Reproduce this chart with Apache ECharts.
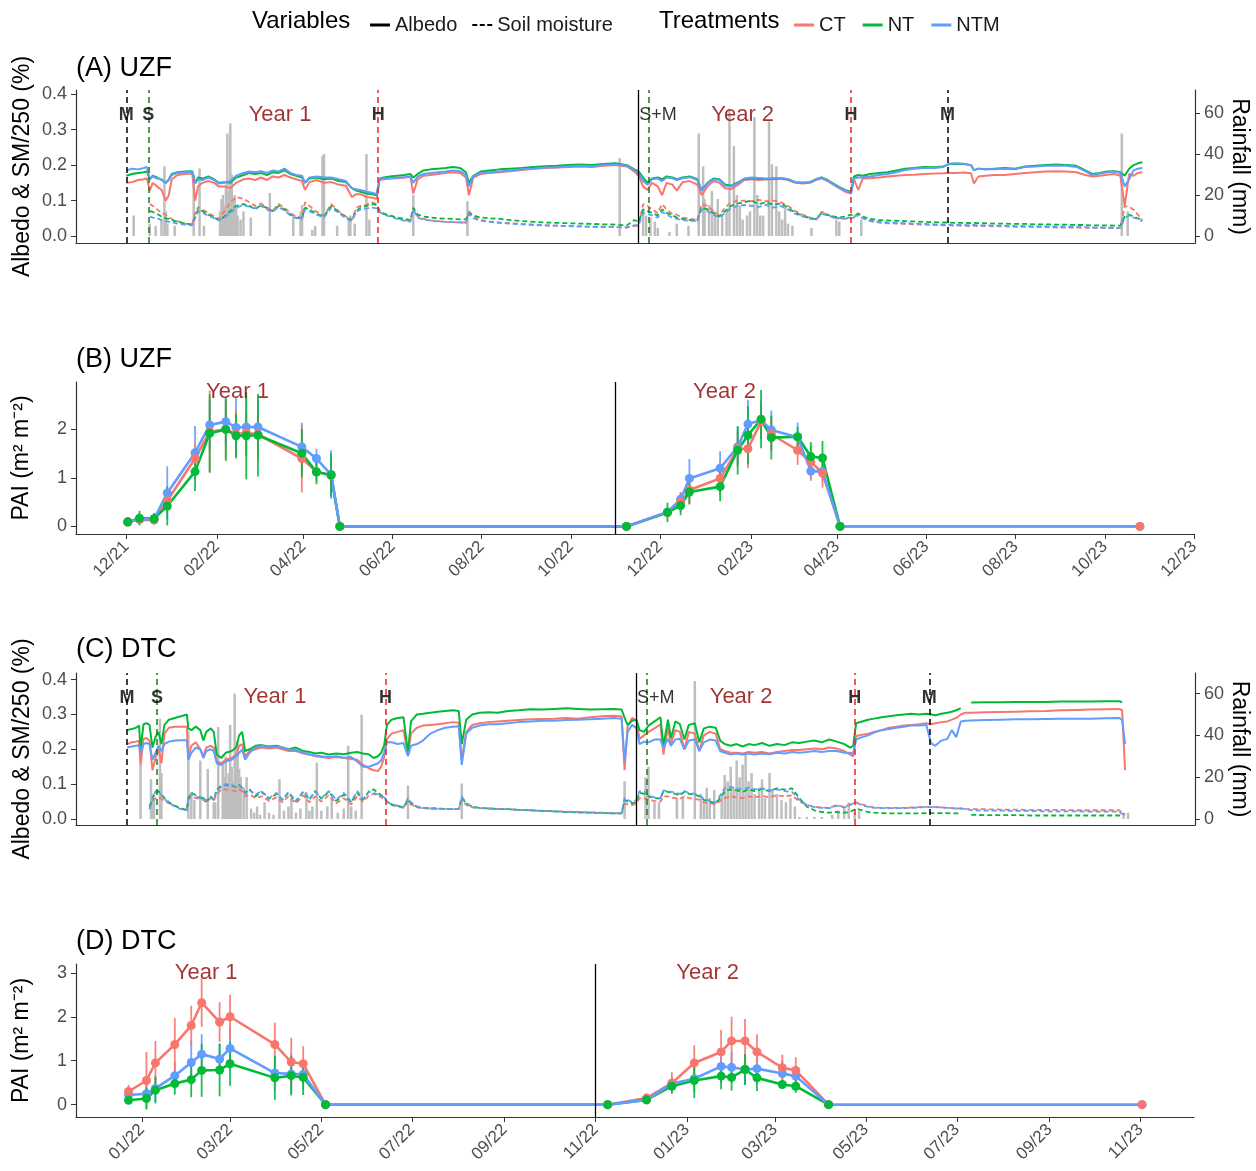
<!DOCTYPE html>
<html><head><meta charset="utf-8">
<script src="https://cdn.jsdelivr.net/npm/echarts@6/dist/echarts.min.js"></script>
<style>html,body{margin:0;padding:0;background:#fff}#c{width:1256px;height:1171px}</style>
</head><body><div id="c"></div>
<script>
// ---------------- DATA ----------------
// Panel A (UZF): days since 2021-12-01
const daysA = [0,4,8,12,14,16,18,21,24,27,
 29,31,35,40,45,47,49,52,56,60,
 63,67,71,75,80,84,88,92,96,100,
 104,108,112,116,120,122,125,130,135,140,
 145,150,154,157,160,164,168,171,173,176,
 180,185,190,194,196,199,203,208,213,218,
 223,228,232,234,237,242,248,255,262,270,
 278,286,294,302,310,318,326,334,342,347,
 350,353,356,359,363,366,369,373,376,380,
 385,390,393,397,401,405,409,413,418,422,
 427,432,437,442,447,452,457,462,467,471,
 475,479,483,487,491,495,497,500,503,508,
 514,520,526,532,538,545,552,558,562,567,
 572,577,579,582,587,593,600,607,614,621,
 628,635,642,649,655,660,665,670,675,679,
 682,685,688,691,694];
const albA_CT = [.150,.152,.158,.160,.162,.128,.150,.140,.130,.100,
 .115,.160,.172,.175,.176,.100,.140,.150,.155,.150,
 .140,.140,.135,.150,.160,.162,.158,.165,.158,.168,
 .165,.172,.165,.160,.155,.130,.152,.158,.150,.152,
 .145,.142,.110,.118,.118,.110,.108,.105,.158,.160,
 .162,.163,.165,.167,.120,.160,.170,.172,.175,.178,
 .180,.178,.165,.115,.165,.175,.178,.180,.183,.186,
 .190,.192,.193,.195,.196,.195,.198,.200,.196,.182,
 .170,.140,.130,.150,.140,.115,.150,.145,.128,.152,
 .155,.145,.115,.140,.155,.150,.135,.132,.145,.158,
 .160,.158,.160,.160,.162,.158,.150,.148,.150,.158,
 .163,.155,.145,.135,.125,.120,.160,.130,.162,.163,
 .165,.168,.170,.172,.173,.175,.176,.177,.178,.178,
 .179,.177,.148,.168,.170,.172,.172,.175,.178,.180,
 .182,.183,.182,.180,.172,.168,.170,.173,.175,.170,
 .085,.175,.170,.178,.180];
const albA_NT = [.170,.175,.178,.180,.182,.160,.170,.165,.158,.150,
 .160,.175,.180,.182,.183,.150,.165,.162,.168,.160,
 .150,.152,.150,.165,.172,.178,.175,.178,.172,.180,
 .178,.185,.175,.170,.165,.150,.162,.165,.160,.162,
 .155,.152,.135,.128,.125,.120,.118,.115,.162,.165,
 .168,.170,.172,.175,.165,.175,.185,.188,.190,.192,
 .195,.192,.180,.150,.170,.182,.185,.188,.190,.192,
 .195,.197,.198,.200,.202,.200,.203,.205,.200,.188,
 .182,.165,.150,.162,.165,.160,.168,.165,.160,.165,
 .168,.160,.130,.150,.162,.160,.145,.142,.152,.160,
 .163,.162,.160,.162,.163,.160,.152,.150,.152,.160,
 .165,.158,.148,.138,.130,.125,.168,.172,.170,.175,
 .178,.180,.185,.190,.192,.195,.194,.196,.203,.204,
 .203,.200,.186,.190,.188,.190,.192,.190,.196,.198,
 .200,.202,.200,.198,.185,.175,.178,.182,.183,.180,
 .170,.190,.200,.205,.208];
const albA_NTM = [.185,.190,.188,.192,.195,.160,.168,.162,.160,.150,
 .158,.172,.178,.180,.181,.148,.160,.158,.165,.158,
 .148,.150,.155,.170,.178,.182,.180,.183,.178,.185,
 .182,.190,.178,.172,.170,.150,.165,.168,.165,.165,
 .160,.155,.135,.132,.130,.125,.122,.118,.160,.162,
 .163,.165,.166,.168,.150,.168,.175,.178,.180,.182,
 .185,.183,.172,.140,.168,.178,.180,.182,.185,.188,
 .190,.193,.194,.196,.198,.197,.200,.202,.198,.186,
 .175,.155,.145,.160,.162,.155,.165,.163,.158,.163,
 .166,.158,.128,.148,.160,.158,.142,.140,.150,.162,
 .165,.164,.162,.163,.164,.160,.152,.150,.152,.160,
 .165,.156,.146,.136,.128,.122,.162,.165,.165,.168,
 .172,.175,.180,.186,.190,.192,.192,.195,.204,.205,
 .204,.200,.185,.190,.188,.188,.190,.188,.195,.196,
 .198,.199,.198,.195,.183,.172,.176,.180,.182,.178,
 .140,.160,.185,.190,.192];
const smA_CT = [null,null,null,null,null,.090,.085,.075,.065,.060,
 .052,.048,.042,.035,.033,.065,.082,.075,.065,.055,
 .048,.070,.095,.110,.105,.095,.085,.092,.080,.072,
 .090,.080,.065,.055,.052,.095,.085,.068,.058,.090,
 .070,.055,.045,.080,.085,.088,.095,.090,.072,.063,
 .058,.050,.045,.042,.078,.055,.048,.044,.042,.040,
 .039,.038,.038,.070,.055,.045,.041,.038,.036,.034,
 .032,.030,.029,.028,.027,.026,.026,.025,.024,.028,
 .030,.090,.085,.075,.065,.090,.075,.062,.060,.052,
 .048,.046,.090,.085,.070,.058,.080,.095,.100,.100,
 .098,.102,.098,.100,.095,.085,.070,.060,.052,.045,
 .068,.060,.052,.050,.048,.050,.052,.065,.050,.042,
 .038,.036,.035,.034,.033,.032,.031,.030,.030,.029,
 .029,.028,.029,.028,.028,.027,.027,.026,.026,.025,
 .025,.024,.024,.024,.023,.023,.023,.022,.022,.022,
 .085,.082,.075,.060,.045];
const smA_NT = [null,null,null,null,null,.070,.068,.062,.055,.050,
 .048,.045,.040,.035,.033,.055,.075,.070,.060,.052,
 .045,.055,.070,.085,.090,.085,.075,.088,.078,.070,
 .085,.075,.060,.052,.050,.080,.075,.062,.055,.085,
 .068,.052,.045,.070,.080,.085,.090,.088,.070,.062,
 .058,.052,.048,.045,.080,.060,.055,.052,.050,.049,
 .048,.047,.047,.065,.058,.052,.050,.048,.045,.042,
 .040,.038,.037,.036,.035,.034,.033,.032,.030,.045,
 .040,.075,.070,.065,.058,.075,.065,.058,.052,.048,
 .045,.044,.080,.075,.065,.055,.070,.085,.092,.095,
 .100,.090,.095,.088,.092,.080,.065,.058,.050,.048,
 .065,.060,.055,.052,.055,.060,.058,.062,.055,.048,
 .045,.044,.043,.042,.041,.040,.039,.038,.038,.037,
 .037,.036,.037,.036,.036,.035,.035,.034,.034,.033,
 .033,.032,.032,.031,.031,.030,.030,.030,.029,.029,
 .055,.060,.055,.050,.045];
const smA_NTM = [null,null,null,null,null,.055,.052,.050,.045,.042,
 .040,.038,.035,.032,.030,.050,.070,.065,.058,.050,
 .044,.052,.065,.080,.088,.082,.078,.085,.075,.068,
 .082,.072,.058,.050,.048,.075,.070,.060,.052,.080,
 .065,.050,.042,.068,.075,.078,.080,.078,.068,.060,
 .055,.048,.043,.040,.075,.052,.046,.043,.041,.040,
 .039,.038,.037,.062,.050,.043,.040,.037,.035,.033,
 .031,.030,.029,.028,.027,.026,.025,.025,.024,.030,
 .032,.065,.062,.058,.052,.068,.060,.052,.048,.045,
 .043,.042,.075,.070,.060,.052,.065,.078,.085,.088,
 .085,.082,.088,.080,.085,.075,.062,.055,.048,.046,
 .062,.058,.052,.050,.050,.052,.055,.058,.050,.043,
 .040,.038,.037,.036,.035,.034,.033,.032,.032,.031,
 .031,.030,.031,.030,.030,.029,.029,.028,.028,.027,
 .027,.026,.026,.025,.025,.024,.024,.024,.023,.023,
 .050,.058,.052,.048,.042];
const rainDaysA = [5,16,20,24,26,27,28,33,46,50,53,64,65,66,67,68,69,70,71,72,
 73,74,75,76,78,80,85,98,114,119,120,127,129,134,135,144,152,153,156,164,
 166,196,233,337,353,355,358,361,363,371,376,384,391,394,395,398,400,402,404,407,
 410,412,415,417,419,421,424,426,429,431,433,435,439,441,444,446,448,450,452,455,
 468,485,487,502,680,684];
const rainMmA = [10,6,5,8,34,12,6,5,30,33,5,12,18,20,15,25,50,22,55,30,
 18,20,14,10,8,12,9,21,9,12,15,3,5,39,40,5,8,10,6,40,
 8,20,17,38,13,10,9,7,4,2,6,5,50,34,18,15,22,12,18,10,
 12,62,44,20,15,8,10,12,58,20,10,10,56,35,34,12,8,14,6,5,
 4,8,7,8,50,12];
const eventDatesA = ['2021-12-01','2021-12-16','2022-05-22','2022-11-23','2023-04-10','2023-06-15'];
const eventKindsA = ['M','S','H','S','H','M'];
const eventLabelsA = ['M','S','H','S+M','H','M'];
const yearSepA = '2022-11-16';

// Panel B (UZF PAI)
const pDatesB = ['2021-12-02','2021-12-10','2021-12-20','2021-12-29','2022-01-17','2022-01-27','2022-02-07','2022-02-14','2022-02-21','2022-03-01','2022-03-31','2022-04-10','2022-04-20','2022-04-26',
 '2022-11-08','2022-12-06','2022-12-15','2022-12-21','2023-01-11','2023-01-23','2023-01-30','2023-02-08','2023-02-15','2023-03-05','2023-03-14','2023-03-22','2023-04-03','2023-10-25'];
const paiB_CT = [0.09,0.14,0.13,0.53,1.40,1.95,2.00,1.90,1.93,1.90,1.40,1.13,1.05,0, 0,0.28,0.50,0.75,0.99,1.60,1.60,2.16,1.90,1.57,1.33,1.10,0,0];
const paiB_NT = [0.09,0.17,0.16,0.42,1.13,1.92,2.00,1.87,1.87,1.88,1.51,1.12,1.06,0, 0,0.29,0.43,0.71,0.82,1.57,1.88,2.21,1.83,1.85,1.44,1.41,0,null];
const paiB_NTM = [0.10,0.15,0.15,0.69,1.52,2.09,2.16,2.04,2.05,2.05,1.64,1.40,1.07,0, 0,0.30,0.56,0.99,1.20,1.64,2.11,2.19,1.99,1.84,1.14,1.13,0,0];
const errB_CT = [0.03,0.08,0.08,0.25,0.3,0.85,0.6,0.5,0.45,0.5,0.7,0.2,0.3,0, 0,0.1,0.2,0.3,0.35,0.35,0.4,0.35,0.35,0.3,0.35,0.3,0,0];
const errB_NT = [0.03,0.15,0.12,0.4,0.4,0.8,0.65,0.45,0.9,0.85,0.5,0.25,0.45,0, 0,0.2,0.2,0.25,0.3,0.5,0.6,0.6,0.45,0.2,0.3,0.35,0,0];
const errB_NTM = [0.03,0.05,0.05,0.55,0.55,0.5,0.5,0.6,0.6,0.55,0.5,0.2,0.5,0, 0,0.08,0.15,0.4,0.35,0.4,0.5,0.4,0.4,0.3,0.2,0.2,0,0];
const yearSepB = '2022-10-31';
const tickLabelsB = ['2021-12-01','2022-02-01','2022-04-01','2022-06-01','2022-08-01','2022-10-01','2022-12-01','2023-02-01','2023-04-01','2023-06-01','2023-08-01','2023-10-01','2023-12-01'];

// Panel C (DTC): days since 2022-01-01
const daysC = [-10,-7,-4,-2,-1,1,3,5,7,9,
 11,13,15,18,22,26,30,31,33,36,
 39,41,43,46,48,50,53,56,60,63,
 65,67,69,72,76,80,85,90,94,98,
 103,108,112,116,120,125,130,135,140,144,
 148,152,155,158,160,162,164,167,171,175,
 178,180,184,188,193,198,203,208,212,214,
 217,221,226,232,238,245,252,260,268,276,
 284,292,300,308,316,321,323,325,328,331,
 333,336,339,343,347,349,352,354,357,360,
 363,366,370,373,376,380,384,387,390,394,
 398,402,406,410,415,420,425,430,435,440,
 445,450,455,460,465,470,474,476,478,482,
 486,490,495,500,505,510,515,520,525,528,
 531,535,539,542,545,548,551,555,565,575,
 585,595,605,615,625,635,645,654,656,658];
const albC_CT = [.215,.220,.222,.225,.155,.230,.232,.225,.140,.175,
 .200,.160,.245,.262,.265,.265,.265,.175,.210,.220,
 .200,.180,.205,.210,.205,.165,.160,.170,.175,.185,
 .210,.215,.180,.195,.200,.205,.202,.205,.200,.195,
 .195,.188,.185,.180,.178,.175,.178,.175,.172,.170,
 .155,.145,.140,.138,.150,.175,.230,.245,.250,.255,
 .185,.245,.262,.268,.270,.272,.275,.278,.276,.170,
 .250,.270,.275,.278,.280,.282,.284,.286,.287,.288,
 .290,.288,.292,.295,.296,.294,.140,.265,.290,.282,
 .230,.240,.250,.260,.272,.185,.262,.215,.255,.250,
 .200,.250,.245,.195,.240,.250,.245,.200,.195,.190,
 .190,.188,.192,.190,.192,.188,.192,.195,.198,.198,
 .200,.202,.200,.205,.202,.195,.185,.180,.238,.242,
 .245,.250,.255,.262,.265,.268,.270,.272,.275,.272,
 .275,.278,.280,.285,.290,.300,.305,.305,.306,.307,
 .308,.309,.310,.312,.313,.314,.315,.316,.312,.140];
const albC_NT = [.255,.258,.262,.268,.200,.272,.275,.270,.205,.235,
 .250,.215,.270,.285,.290,.295,.300,.260,.255,.265,
 .255,.225,.250,.260,.250,.185,.175,.190,.195,.205,
 .240,.250,.195,.200,.210,.212,.208,.210,.205,.200,
 .205,.195,.192,.188,.190,.185,.188,.186,.190,.192,
 .188,.185,.175,.180,.190,.210,.270,.285,.290,.292,
 .190,.280,.300,.302,.305,.308,.310,.312,.310,.215,
 .285,.300,.305,.306,.305,.310,.312,.315,.314,.316,
 .318,.316,.314,.315,.316,.314,.290,.270,.282,.285,
 .255,.250,.268,.280,.292,.210,.285,.232,.280,.272,
 .228,.270,.275,.220,.260,.265,.262,.225,.215,.210,
 .215,.208,.215,.212,.218,.210,.215,.212,.220,.218,
 .222,.225,.220,.228,.222,.215,.205,.210,.275,.280,
 .285,.288,.292,.295,.298,.300,.302,.300,.302,.300,
 .298,.302,.305,.308,.312,.318,null,.334,.335,.335,
 .336,.336,.336,.337,.337,.337,.338,.338,.335,null];
const albC_NTM = [.205,.208,.210,.212,.190,.215,.218,.215,.170,.190,
 .210,.195,.215,.222,.225,.226,.226,.170,.190,.205,
 .200,.175,.195,.200,.195,.160,.155,.165,.170,.180,
 .190,.200,.170,.190,.205,.210,.205,.208,.205,.200,
 .198,.190,.185,.182,.180,.178,.180,.176,.178,.165,
 .150,.150,.155,.160,.168,.190,.220,.220,.215,.218,
 .180,.210,.215,.225,.245,.255,.262,.265,.266,.155,
 .245,.262,.268,.272,.272,.275,.278,.280,.282,.282,
 .284,.285,.286,.288,.290,.288,.165,.250,.270,.260,
 .215,.222,.220,.228,.228,.205,.230,.210,.228,.230,
 .200,.225,.228,.195,.220,.228,.225,.195,.190,.185,
 .188,.185,.188,.185,.188,.186,.190,.188,.192,.190,
 .192,.195,.192,.195,.195,.190,.190,.188,.228,.235,
 .240,.248,.255,.258,.262,.265,.268,.268,.270,.218,
 .210,.225,.230,.255,.235,.280,.282,.283,.284,.285,
 .286,.286,.287,.288,.288,.288,.289,.290,.285,.215];
const smC_CT = [null,null,null,null,null,null,null,.030,.050,.060,
 .062,.058,.052,.045,.038,.030,.026,.055,.065,.060,
 .058,.055,.048,.060,.052,.070,.085,.085,.082,.080,
 .085,.080,.065,.070,.060,.065,.052,.062,.048,.065,
 .045,.068,.048,.065,.050,.068,.045,.060,.042,.065,
 .050,.068,.072,.068,.062,.060,.048,.040,.036,.032,
 .052,.042,.033,.031,.030,.029,.029,.028,.028,.055,
 .040,.033,.031,.030,.029,.028,.026,.025,.023,.022,
 .021,.020,.019,.018,.017,.016,.045,.042,.040,.045,
 .060,.060,.055,.052,.050,.065,.065,.062,.060,.058,
 .065,.060,.058,.055,.048,.045,.042,.052,.060,.065,
 .062,.060,.065,.062,.066,.062,.068,.065,.068,.050,
 .040,.035,.033,.032,.040,.034,.042,.045,.048,.042,
 .036,.033,.032,.032,.032,.032,.033,.034,.035,.035,
 .034,.033,.032,.031,.030,.030,.029,.028,.028,.027,
 .027,.026,.026,.026,.025,.025,.025,.025,.020,.012];
const smC_NT = [null,null,null,null,null,null,null,.035,.060,.075,
 .080,.070,.060,.048,.038,.030,.026,.060,.075,.068,
 .062,.060,.050,.065,.055,.085,.095,.098,.095,.092,
 .098,.090,.075,.085,.065,.078,.058,.072,.055,.075,
 .050,.078,.055,.080,.058,.078,.052,.070,.048,.075,
 .055,.080,.085,.075,.068,.065,.050,.042,.038,.033,
 .055,.045,.035,.032,.030,.030,.029,.029,.028,.060,
 .045,.035,.032,.030,.029,.028,.026,.025,.023,.022,
 .020,.019,.018,.017,.016,.016,.055,.050,.045,.050,
 .075,.072,.065,.060,.058,.080,.078,.075,.072,.068,
 .078,.072,.070,.065,.055,.050,.045,.060,.080,.085,
 .082,.078,.085,.080,.086,.080,.088,.084,.088,.060,
 .035,.025,.020,.018,.020,.018,.020,.025,.030,.025,
 .020,.018,.017,.016,.016,.016,.016,.016,.017,.017,
 .017,.017,.017,.016,.016,.016,null,.012,.011,.011,
 .011,.010,.010,.010,.010,.010,.010,.010,.010,null];
const smC_NTM = [null,null,null,null,null,null,null,.028,.055,.080,
 .078,.068,.058,.045,.036,.028,.025,.058,.072,.065,
 .060,.062,.052,.062,.055,.080,.092,.100,.098,.090,
 .095,.088,.072,.082,.070,.080,.060,.075,.055,.078,
 .052,.080,.058,.078,.060,.080,.055,.075,.050,.080,
 .058,.078,.075,.070,.065,.062,.050,.042,.038,.033,
 .060,.048,.036,.032,.031,.030,.029,.029,.028,.065,
 .045,.035,.032,.030,.029,.028,.026,.025,.023,.022,
 .020,.019,.018,.017,.016,.016,.060,.055,.048,.055,
 .080,.078,.068,.062,.060,.082,.080,.078,.075,.072,
 .080,.075,.072,.068,.058,.052,.046,.068,.088,.092,
 .088,.085,.090,.085,.088,.082,.085,.080,.078,.055,
 .040,.034,.032,.031,.038,.033,.040,.045,.046,.040,
 .035,.032,.031,.031,.031,.031,.032,.033,.034,.034,
 .034,.033,.032,.031,.030,.030,.029,.025,.024,.024,
 .023,.023,.022,.022,.022,.021,.021,.021,.015,.012];
const rainDaysC = [-1,6,7,8,12,13,31,33,35,39,
 44,48,49,51,54,55,56,57,58,59,
 60,61,62,63,64,65,66,68,70,73,
 75,77,79,82,85,88,92,95,98,100,
 103,106,110,112,114,117,120,124,127,131,
 135,138,140,143,147,178,214,323,337,339,
 343,346,358,362,370,374,376,378,380,383,
 388,390,392,394,396,398,400,402,404,406,
 408,410,413,415,417,420,422,425,428,431,
 434,437,440,445,450,455,462,466,470,473,
 477,480,657,660];
const rainMmC = [26,19,12,9,48,22,42,13,9,28,
 24,8,8,44,26,20,30,17,22,45,
 25,18,60,30,37,24,20,15,20,5,
 3,6,2,8,3,2,19,4,6,10,
 3,5,13,4,6,27,4,6,10,3,
 5,35,6,4,50,16,17,18,20,25,
 8,8,10,10,66,12,8,15,10,14,
 12,21,18,25,15,28,20,26,31,18,
 22,12,15,19,10,22,14,12,9,8,
 10,6,1,1,1,1,2,4,6,8,
 3,4,3,3];
const eventDatesC = ['2021-12-22','2022-01-11','2022-06-13','2022-12-05','2023-04-23','2023-06-12'];
const eventKindsC = ['M','S','H','S','H','M'];
const eventLabelsC = ['M','S','H','S+M','H','M'];
const yearSepC = '2022-11-28';

// Panel D (DTC PAI)
const pDatesD = ['2021-12-23','2022-01-04','2022-01-10','2022-01-23','2022-02-03','2022-02-10','2022-02-22','2022-03-01','2022-03-31','2022-04-11','2022-04-19','2022-05-04',
 '2022-11-09','2022-12-05','2022-12-22','2023-01-06','2023-01-24','2023-01-31','2023-02-09','2023-02-17','2023-03-06','2023-03-15','2023-04-06','2023-11-02'];
const paiD_CT = [0.30,0.55,0.95,1.37,1.80,2.32,1.88,2.00,1.37,0.97,0.93,0, 0,0.15,0.49,0.95,1.20,1.45,1.45,1.20,0.84,0.78,0,0];
const paiD_NT = [0.10,0.14,0.33,0.48,0.57,0.78,0.79,0.93,0.61,0.66,0.62,0, 0,0.11,0.42,0.55,0.65,0.62,0.80,0.61,0.46,0.42,0,null];
const paiD_NTM = [0.22,0.25,0.37,0.66,0.96,1.15,1.04,1.28,0.72,0.70,0.69,0, 0,0.11,0.48,0.59,0.87,0.85,0.80,0.82,0.71,0.65,0,0];
const errD_CT = [0.15,0.65,0.5,0.6,0.45,0.55,0.45,0.5,0.5,0.55,0.4,0, 0,0.1,0.25,0.4,0.5,0.55,0.5,0.4,0.3,0.3,0,0];
const errD_NT = [0.05,0.25,0.3,0.25,0.4,0.6,0.6,0.5,0.5,0.45,0.4,0, 0,0.1,0.15,0.4,0.3,0.3,0.35,0.3,0.1,0.15,0,0];
const errD_NTM = [0.1,0.2,0.3,0.3,0.5,0.45,0.35,0.5,0.4,0.45,0.35,0, 0,0.08,0.15,0.3,0.4,0.35,0.35,0.35,0.3,0.2,0,0];
const yearSepD = '2022-11-01';
const tickLabelsD = ['2022-01-01','2022-03-01','2022-05-01','2022-07-01','2022-09-01','2022-11-01','2023-01-01','2023-03-01','2023-05-01','2023-07-01','2023-09-01','2023-11-01'];

// Year label anchors [date, y, text]
const yearLabelsA = [['2022-03-16',0.341,'Year 1'],['2023-01-26',0.341,'Year 2']];
const yearLabelsB = [['2022-02-15',2.77,'Year 1'],['2023-01-14',2.77,'Year 2']];
const yearLabelsC = [['2022-03-31',0.35,'Year 1'],['2023-02-06',0.35,'Year 2']];
const yearLabelsD = [['2022-02-13',3.0,'Year 1'],['2023-01-15',3.0,'Year 2']];

// ---------------- BUILD ----------------
const FONT = '"Liberation Sans", Arial, sans-serif';
const COL = {CT:'#F8766D', NT:'#00BA38', NTM:'#619CFF'};
const EVCOL = {M:'#000000', S:'#1d7a1d', H:'#ee2222'};
const DAY = 864e5;
function toT(s){const p=s.split('-').map(Number);return Date.UTC(p[0],p[1]-1,p[2]);}
const baseA = toT('2021-12-01'), baseC = toT('2022-01-01');
const xExtA = [baseA-34.4*DAY, baseA+730*DAY];
const xExtC = [baseC-44.2*DAY, baseC+704.8*DAY];
const fmtMY = v => {const d=new Date(v);return String(d.getUTCMonth()+1).padStart(2,'0')+'/'+String(d.getUTCFullYear()%100).padStart(2,'0');};

function ln(name, xi, yi, days, base, vals, dashed){
  const color = COL[name];
  return {type:'line', name, xAxisIndex:xi, yAxisIndex:yi, symbol:'none', showSymbol:false, silent:true,
    connectNulls:false, animation:false,
    data: days.map((d,i)=>[base+d*DAY, vals[i]==null?'-':vals[i]]),
    lineStyle:{color, width: dashed?1.8:2, type: dashed?[5,3]:'solid'}, itemStyle:{color}, z: dashed?3:4};
}
function evMarks(dates, kinds, sep){
  const arr = dates.map((s,i)=>({xAxis: toT(s), lineStyle:{color:EVCOL[kinds[i]], type:[6,4], width:1.5}}));
  arr.push({xAxis: toT(sep), lineStyle:{color:'#000', type:'solid', width:1.3}});
  return {symbol:['none','none'], silent:true, animation:false, label:{show:false}, data:arr};
}
function rainSeries(xi, yi, days, base, mm, marks){
  return {type:'bar', xAxisIndex:xi, yAxisIndex:yi, barWidth:2.5, silent:true, animation:false,
    itemStyle:{color:'#BEBEBE'}, z:2, data: days.map((d,i)=>[base+d*DAY, mm[i]]), markLine: marks};
}
function labels(xi, yi, items, color, size, weight, leftItems){
  return {type:'scatter', xAxisIndex:xi, yAxisIndex:yi, symbolSize:1, silent:true, animation:false, z:12,
    itemStyle:{color:'rgba(0,0,0,0)'},
    data: items.map(it=>{
      const o = {value:[toT(it[0]), it[1]], name: it[2]};
      if (leftItems && leftItems.indexOf(it[2])>=0) o.label = {position:'right', distance:0, fontWeight:'normal'};
      return o;
    }),
    label:{show:true, position:'inside', formatter:'{b}', color, fontSize:size, fontWeight:weight, fontFamily:FONT}};
}
function eventLabelItems(dates, texts, sep, y){
  return dates.map((s,i)=> texts[i]==='S+M' ? [sep, y, texts[i]] : [s, y, texts[i]]);
}
function paiLine(name, xi, yi, dates, vals, marks){
  const color = COL[name];
  const s = {type:'line', name, xAxisIndex:xi, yAxisIndex:yi, symbol:'none', showSymbol:false, silent:true, animation:false,
    connectNulls:false, data: dates.map((d,i)=>[toT(d), vals[i]==null?'-':vals[i]]),
    lineStyle:{color, width:2.6}, itemStyle:{color}, z:3};
  if (marks) s.markLine = marks;
  return s;
}
function paiErr(name, xi, yi, dates, vals, errs){
  const color = COL[name];
  const data = [];
  dates.forEach((d,i)=>{ if (vals[i]!=null && errs[i]>0) data.push([toT(d), vals[i], errs[i]]); });
  return {type:'custom', xAxisIndex:xi, yAxisIndex:yi, silent:true, animation:false, z:4, encode:{x:0,y:1}, data,
    renderItem:(p,api)=>{
      const t=api.value(0), v=api.value(1), e=api.value(2);
      const a=api.coord([t,v-e]), b=api.coord([t,v+e]);
      return {type:'line', shape:{x1:a[0],y1:a[1],x2:b[0],y2:b[1]}, style:{stroke:color, lineWidth:1.8, opacity:0.9}};
    }};
}
function paiPts(name, xi, yi, dates, vals){
  const color = COL[name];
  const data = [];
  dates.forEach((d,i)=>{ if (vals[i]!=null) data.push([toT(d), vals[i]]); });
  return {type:'scatter', xAxisIndex:xi, yAxisIndex:yi, symbol:'circle', symbolSize:9, silent:true, animation:false,
    itemStyle:{color, opacity:1}, z:5, data};
}

const axLine = {show:true, onZero:false, lineStyle:{color:'#333', width:1.2}};
function yAx(gi, min, max, ticks, fmt, name, opts){
  return Object.assign({type:'value', gridIndex:gi, min, max, axisLine:axLine,
    axisTick:{show:true, customValues:ticks, length:5, lineStyle:{color:'#333'}},
    axisLabel:{customValues:ticks, formatter:fmt, color:'#4D4D4D', fontSize:18, margin:9, fontFamily:FONT},
    splitLine:{show:false}, name, nameLocation:'middle', nameGap:42, nameMoveOverlap:false,
    nameTextStyle:{fontSize:23, color:'#000', fontFamily:FONT}}, opts||{});
}
function xAx(gi, ext, ticks){
  const o = {type:'value', gridIndex:gi, min:ext[0], max:ext[1], axisLine:axLine, splitLine:{show:false}, scale:true};
  if (ticks){
    const tv = ticks.map(toT);
    o.axisTick = {show:true, customValues:tv, length:5, lineStyle:{color:'#333'}};
    o.axisLabel = {customValues:tv, formatter:fmtMY, rotate:45, color:'#4D4D4D', fontSize:17, margin:10, fontFamily:FONT, hideOverlap:false};
  } else {
    o.axisTick = {show:false}; o.axisLabel = {show:false};
  }
  return o;
}
const f1 = v => v.toFixed(1), f0 = v => String(v);

const series = [];
series.push({type:'line', name:'Albedo', xAxisIndex:0, yAxisIndex:0, data:[], symbol:'none', lineStyle:{color:'#000', width:2}, itemStyle:{color:'#000'}});
series.push({type:'line', name:'Soil moisture', xAxisIndex:0, yAxisIndex:0, data:[], symbol:'none', lineStyle:{color:'#000', width:2, type:[4,3]}, itemStyle:{color:'#000'}});
// Panel A
series.push(ln('CT',0,0,daysA,baseA,albA_CT,false));
series.push(ln('NT',0,0,daysA,baseA,albA_NT,false));
series.push(ln('NTM',0,0,daysA,baseA,albA_NTM,false));
series.push(rainSeries(0,1,rainDaysA,baseA,rainMmA, evMarks(eventDatesA,eventKindsA,yearSepA)));
series.push(ln('CT',0,0,daysA,baseA,smA_CT,true));
series.push(ln('NT',0,0,daysA,baseA,smA_NT,true));
series.push(ln('NTM',0,0,daysA,baseA,smA_NTM,true));
series.push(labels(0,0,eventLabelItems(eventDatesA,eventLabelsA,yearSepA,0.341),'#000',18,'bold',['S+M']));
series.push(labels(0,0,yearLabelsA,'#8B0000',22,'normal'));
// Panel B
series.push(paiLine('CT',1,2,pDatesB,paiB_CT));
series.push(paiLine('NT',1,2,pDatesB,paiB_NT));
series.push(paiLine('NTM',1,2,pDatesB,paiB_NTM,{symbol:['none','none'],silent:true,animation:false,label:{show:false},data:[{xAxis:toT(yearSepB),lineStyle:{color:'#000',type:'solid',width:1.3}}]}));
series.push(labels(1,2,yearLabelsB,'#8B0000',22,'normal'));
series.push(paiErr('NTM',1,2,pDatesB,paiB_NTM,errB_NTM));
series.push(paiErr('CT',1,2,pDatesB,paiB_CT,errB_CT));
series.push(paiErr('NT',1,2,pDatesB,paiB_NT,errB_NT));
series.push(paiPts('NTM',1,2,pDatesB,paiB_NTM));
series.push(paiPts('CT',1,2,pDatesB,paiB_CT));
series.push(paiPts('NT',1,2,pDatesB,paiB_NT));
// Panel C
series.push(ln('CT',2,3,daysC,baseC,albC_CT,false));
series.push(ln('NT',2,3,daysC,baseC,albC_NT,false));
series.push(ln('NTM',2,3,daysC,baseC,albC_NTM,false));
series.push(rainSeries(2,4,rainDaysC,baseC,rainMmC, evMarks(eventDatesC,eventKindsC,yearSepC)));
series.push(ln('CT',2,3,daysC,baseC,smC_CT,true));
series.push(ln('NT',2,3,daysC,baseC,smC_NT,true));
series.push(ln('NTM',2,3,daysC,baseC,smC_NTM,true));
series.push(labels(2,3,eventLabelItems(eventDatesC,eventLabelsC,yearSepC,0.347),'#000',18,'bold',['S+M']));
series.push(labels(2,3,yearLabelsC,'#8B0000',22,'normal'));
// Panel D
series.push(paiLine('CT',3,5,pDatesD,paiD_CT));
series.push(paiLine('NT',3,5,pDatesD,paiD_NT));
series.push(paiLine('NTM',3,5,pDatesD,paiD_NTM,{symbol:['none','none'],silent:true,animation:false,label:{show:false},data:[{xAxis:toT(yearSepD),lineStyle:{color:'#000',type:'solid',width:1.3}}]}));
series.push(labels(3,5,yearLabelsD,'#8B0000',22,'normal'));
series.push(paiErr('NTM',3,5,pDatesD,paiD_NTM,errD_NTM));
series.push(paiErr('CT',3,5,pDatesD,paiD_CT,errD_CT));
series.push(paiErr('NT',3,5,pDatesD,paiD_NT,errD_NT));
series.push(paiPts('NTM',3,5,pDatesD,paiD_NTM));
series.push(paiPts('CT',3,5,pDatesD,paiD_CT));
series.push(paiPts('NT',3,5,pDatesD,paiD_NT));

const legendText = {fontSize:20, color:'#1a1a1a', fontFamily:FONT};
const DASH_ICON = 'path://M0,0h5v2h-5z M7.5,0h5v2h-5z M15,0h5v2h-5z';
const option = {
  animation:false,
  backgroundColor:'#fff',
  textStyle:{fontFamily:FONT},
  grid:[
    {left:76, right:61, top:90, height:153, outerBoundsMode:'none', containLabel:false},
    {left:76, right:62, top:382, height:152, outerBoundsMode:'none', containLabel:false},
    {left:76, right:61, top:673, height:152, outerBoundsMode:'none', containLabel:false},
    {left:76, right:62, top:964, height:153, outerBoundsMode:'none', containLabel:false}
  ],
  legend:[
    {data:[{name:'Albedo', icon:'rect'},{name:'Soil moisture', icon:DASH_ICON}], left:365, top:10, itemWidth:20, itemHeight:3, itemGap:15, textStyle:legendText, selectedMode:false},
    {data:[{name:'CT',icon:'rect'},{name:'NT',icon:'rect'},{name:'NTM',icon:'rect'}], left:789, top:10, itemWidth:20, itemHeight:3, itemGap:17, textStyle:legendText, selectedMode:false}
  ],
  graphic:[
    {type:'text', x:252, y:21, style:{text:'Variables', fontSize:24, fontFamily:FONT, fill:'#000', verticalAlign:'middle'}},
    {type:'text', x:659, y:21, style:{text:'Treatments', fontSize:24, fontFamily:FONT, fill:'#000', verticalAlign:'middle'}},
    {type:'text', x:76, y:69, style:{text:'(A) UZF', fontSize:27, fontFamily:FONT, fill:'#000', verticalAlign:'middle'}},
    {type:'text', x:76, y:360, style:{text:'(B) UZF', fontSize:27, fontFamily:FONT, fill:'#000', verticalAlign:'middle'}},
    {type:'text', x:76, y:650, style:{text:'(C) DTC', fontSize:27, fontFamily:FONT, fill:'#000', verticalAlign:'middle'}},
    {type:'text', x:76, y:942, style:{text:'(D) DTC', fontSize:27, fontFamily:FONT, fill:'#000', verticalAlign:'middle'}}
  ],
  xAxis:[ xAx(0,xExtA,null), xAx(1,xExtA,tickLabelsB), xAx(2,xExtC,null), xAx(3,xExtC,tickLabelsD) ],
  yAxis:[
    yAx(0,-0.0198,0.412,[0,0.1,0.2,0.3,0.4],f1,'Albedo & SM/250 (%)'),
    yAx(0,-0.0198*173,0.412*173,[0,20,40,60],f0,'Rainfall (mm)',{position:'right', nameRotate:-90, nameGap:33}),
    yAx(1,-0.156,2.977,[0,1,2],f0,'PAI (m² m⁻²)',{nameGap:43}),
    yAx(2,-0.0173,0.419,[0,0.1,0.2,0.3,0.4],f1,'Albedo & SM/250 (%)'),
    yAx(2,-0.0173*166.8,0.419*166.8,[0,20,40,60],f0,'Rainfall (mm)',{position:'right', nameRotate:-90, nameGap:33}),
    yAx(3,-0.28,3.2,[0,1,2,3],f0,'PAI (m² m⁻²)',{nameGap:43})
  ],
  series
};
const chart = echarts.init(document.getElementById('c'), null, {renderer:'canvas'});
chart.setOption(option);
</script></body></html>
